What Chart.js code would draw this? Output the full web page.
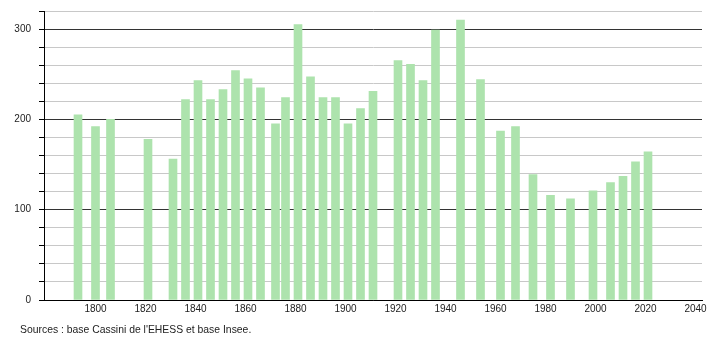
<!DOCTYPE html>
<html>
<head>
<meta charset="utf-8">
<script src="https://cdn.jsdelivr.net/npm/chart.js@4/dist/chart.umd.min.js"></script>
<style>
  body { margin: 0; background: #fff; }
  #wrap { position: relative; width: 710px; height: 340px; }
  #source {
    position: absolute; left: 20px; top: 324px;
    font: 10.4px "Liberation Sans", Arial, sans-serif; color: #222;
  }
</style>
</head>
<body>
<div id="wrap">
  <canvas id="chart" width="710" height="340"></canvas>
  <div id="source">Sources : base Cassini de l'EHESS et base Insee.</div>
</div>
<script>
// census years and population
const years = [1793, 1800, 1806, 1821, 1831, 1836, 1841, 1846, 1851, 1856, 1861, 1866,
  1872, 1876, 1881, 1886, 1891, 1896, 1901, 1906, 1911, 1921, 1926, 1931, 1936,
  1946, 1954, 1962, 1968, 1975, 1982, 1990, 1999, 2006, 2011, 2016, 2021];
const population = [205, 192, 200, 178, 156, 222, 243, 222, 233, 254, 245, 235,
  195, 224, 305, 247, 224, 224, 195, 212, 231, 265, 261, 243, 299,
  310, 244, 187, 192, 139, 116, 112, 121, 130, 137, 153, 164];
const xTicks = [1800, 1820, 1840, 1860, 1880, 1900, 1920, 1940, 1960, 1980, 2000, 2020, 2040];

const ctx = document.getElementById('chart').getContext('2d');
new Chart(ctx, {
  type: 'bar',
  data: {
    datasets: [{
      data: years.map((y, i) => ({ x: y, y: population[i] })),
      backgroundColor: '#ade3ad',
      barThickness: 8,
    }],
  },
  options: {
    responsive: false,
    animation: false,
    layout: { padding: { top: 11, right: 8, bottom: 18, left: 0 } },
    plugins: { legend: { display: false }, tooltip: { enabled: false } },
    scales: {
      x: {
        type: 'linear',
        offset: false,
        min: 1779.4,
        max: 2042.6,
        afterBuildTicks: (s) => { s.ticks = xTicks.map(v => ({ value: v })); },
        afterFit: (s) => { s.height = 22; },
        grid: { display: false, drawTicks: false },
        border: { display: true, color: '#000', width: 1 },
        ticks: {
          padding: 3,
          color: '#222',
          font: { family: 'Liberation Sans', size: 10 },
          maxRotation: 0,
          autoSkip: false,
          callback: (v) => String(v),
        },
      },
      y: {
        min: 0,
        max: 320,
        afterFit: (s) => { s.width = 44; s.paddingTop = 0; s.paddingBottom = 0; },
        grid: {
          color: (c) => (c.tick && c.tick.value % 100 === 0) ? '#333' : '#c8c8c8',
          tickColor: '#000',
          tickLength: 5,
        },
        border: { display: true, color: '#000', width: 1 },
        ticks: {
          stepSize: 20,
          padding: 8,
          color: '#222',
          font: { family: 'Liberation Sans', size: 10 },
          callback: (v) => v % 100 === 0 ? v : '',
        },
      },
    },
  },
});
</script>
</body>
</html>
